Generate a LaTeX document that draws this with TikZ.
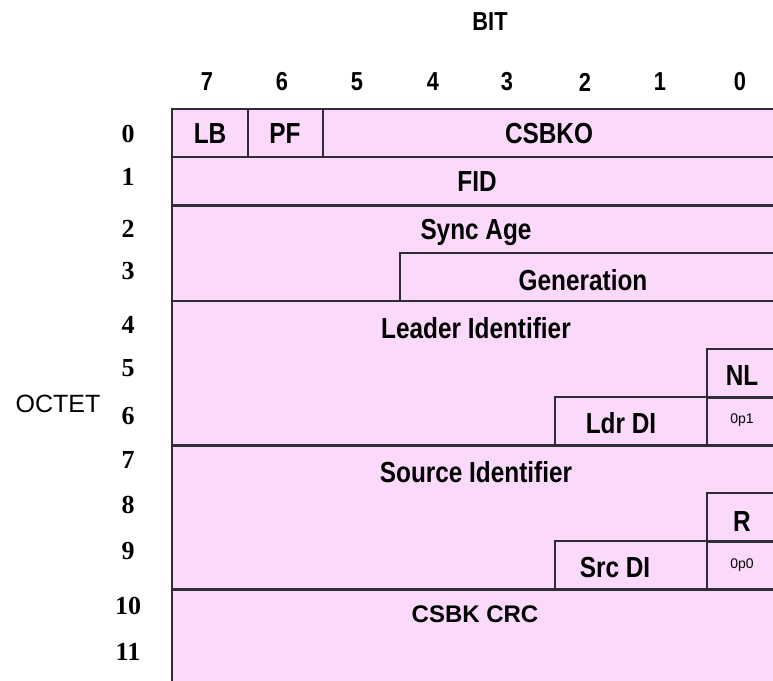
\documentclass[tikz,border=0pt]{standalone}
\usepackage{fontspec}
\setmainfont{Liberation Sans}
\newfontfamily\narrowsans[FakeStretch=0.84]{Liberation Sans}
\newfontfamily\serifnum{Liberation Serif}
\definecolor{cellpink}{RGB}{251,217,251}
\definecolor{rulegray}{RGB}{48,44,54}

\begin{document}
\begin{tikzpicture}[x=1pt, y=-1pt]
        \tikzstyle{fld} = [font=\narrowsans\bfseries\fontsize{29}{32}\selectfont, inner sep=0pt]
        \tikzstyle{rownum} = [font=\serifnum\bfseries\fontsize{26}{28}\selectfont, inner sep=0pt]
        \tikzstyle{bitnum} = [font=\narrowsans\bfseries\fontsize{26}{28}\selectfont, inner sep=0pt]
        \tikzstyle{tiny} = [font=\fontsize{14}{15}\selectfont, inner sep=0pt]
        \tikzstyle{rule} = [draw=rulegray, line width=1.8pt]
        \tikzstyle{heavy} = [draw=rulegray, line width=3pt]
        \clip (0,0) rectangle (773,680);
        \fill[white] (0,0) rectangle (773,680);
        \fill[cellpink] (172,109) rectangle (800,700);

        % headings
        \node[bitnum] (bit) at (490,22) {BIT};
        \node[font=\fontsize{25}{28}\selectfont, inner sep=0pt] (octet) at (58,404) {OCTET};
        \foreach \b/\x in {7/207, 6/282, 5/357, 4/433, 3/507, 2/585, 1/660, 0/740}
          \node[bitnum] (b\b) at (\x,82) {\b};
        \foreach \r/\y in {0/134, 1/177, 2/229, 3/271, 4/325, 5/368, 6/416, 7/460, 8/505, 9/551, 10/606, 11/652}
          \node[rownum] (o\r) at (128,\y) {\r};

        % frame and field borders
        \draw[rule] (800,109) -- (172,109) -- (172,700);
        \draw[rule] (172,157) -- (800,157);
        \draw[rule] (248,109) -- (248,157);
        \draw[rule] (323,109) -- (323,157);
        \draw[heavy] (172,205) -- (800,205);
        \draw[rule] (400,301) -- (400,253) -- (800,253);
        \draw[rule] (172,301) -- (800,301);
        \draw[rule] (555,445) -- (555,397) -- (707,397);
        \draw[rule] (707,445) -- (707,349) -- (800,349);
        \draw[heavy] (707,397) -- (800,397);
        \draw[heavy] (172,445) -- (800,445);
        \draw[rule] (555,589) -- (555,541) -- (707,541);
        \draw[rule] (707,589) -- (707,493) -- (800,493);
        \draw[heavy] (707,541) -- (800,541);
        \draw[heavy] (172,589) -- (800,589);

        % field names
        \node[fld] (lb) at (210,134) {LB};
        \node[fld] (pf) at (285,134) {PF};
        \node[fld] (csbko) at (549,134) {CSBKO};
        \node[fld] (fid) at (477,182) {FID};
        \node[fld] (sync) at (476,232) {Sync Age};
        \node[fld] (gen) at (583,280) {Generation};
        \node[fld] (leader) at (476,328) {Leader Identifier};
        \node[fld] (nl) at (742,376) {NL};
        \node[fld] (ldrdi) at (621,423) {Ldr DI};
        \node[tiny] (op1) at (742,420) {0p1};
        \node[fld] (source) at (476,472) {Source Identifier};
        \node[fld] (rsv) at (742,522) {R};
        \node[fld] (srcdi) at (615,568) {Src DI};
        \node[tiny] (op0) at (742,565) {0p0};
        \node[font=\bfseries\fontsize{24}{28}\selectfont, inner sep=0pt] (crc) at (475,614) {CSBK CRC};
      \end{tikzpicture}
\end{document}
